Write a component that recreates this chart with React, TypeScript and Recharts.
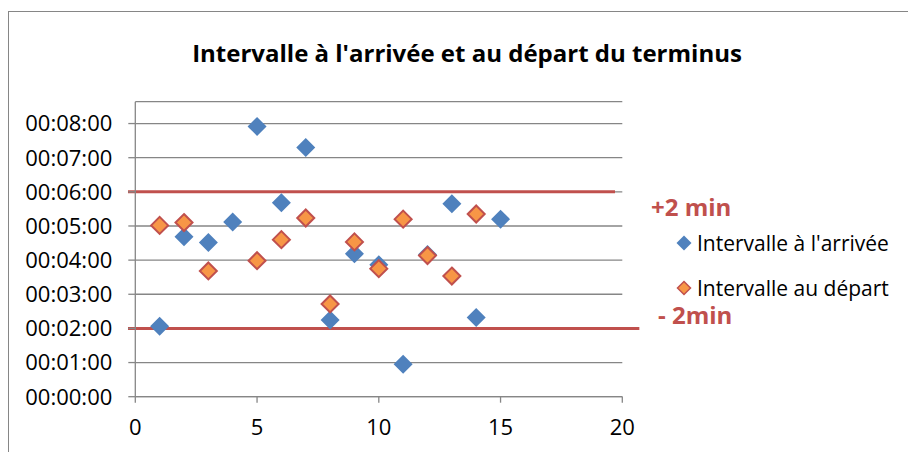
import React from 'react';
import {
    ScatterChart, Scatter, XAxis, YAxis, CartesianGrid, ReferenceLine
} from 'recharts';

// x = passage number, y = interval in seconds
const arrivalX = [1, 2, 3, 4, 5, 6, 7, 8, 9, 10, 11, 12, 13, 14, 15];
const arrivalSec = [124, 281, 271, 307, 475, 341, 438, 135, 251, 232, 57, 250, 339, 139, 312];

const departureX = [1, 2, 3, 5, 6, 7, 8, 9, 10, 11, 12, 13, 14];
const departureSec = [301, 306, 221, 239, 276, 314, 163, 272, 225, 312, 248, 212, 321];

const xTicks = [0, 5, 10, 15, 20];
const yTicks = [0, 60, 120, 180, 240, 300, 360, 420, 480];

const upperLimit = 360; // +2 min
const lowerLimit = 120; // -2 min

const ARRIVAL_NAME = "Intervalle à l'arrivée";
const DEPARTURE_NAME = 'Intervalle au départ';

const FONT = '"Open Sans", sans-serif';
const GRID = '#868686';
const BLUE = '#4F81BD';
const ORANGE = '#F79646';
const RED = '#C0504D';

const arrivalData = arrivalX.map((x, i) => ({ x, y: arrivalSec[i] }));
const departureData = departureX.map((x, i) => ({ x, y: departureSec[i] }));

const pad = (n) => String(n).padStart(2, '0');
const formatTime = (s) => `${pad(Math.floor(s / 3600))}:${pad(Math.floor((s % 3600) / 60))}:${pad(s % 60)}`;

const diamond = (fill, stroke, r, sw) => (props) => {
    const { cx, cy } = props;
    if (cx == null || cy == null) return null;
    return (
        <polygon
            points={`${cx},${cy - r} ${cx + r},${cy} ${cx},${cy + r} ${cx - r},${cy}`}
            fill={fill}
            stroke={stroke}
            strokeWidth={sw}
        />
    );
};

const legendItems = [
    { name: ARRIVAL_NAME, fill: BLUE, stroke: BLUE, sw: 0 },
    { name: DEPARTURE_NAME, fill: ORANGE, stroke: RED, sw: 1.5 },
];

const limitLabel = {
    position: 'absolute',
    fontFamily: FONT,
    fontWeight: 700,
    fontSize: 24,
    color: RED,
    lineHeight: '30px',
    whiteSpace: 'nowrap',
};

export default function App() {
    return (
        <div style={{ position: 'absolute', left: 0, top: 0, width: 908, height: 452, overflow: 'hidden', background: '#fff' }}>
            <div style={{ position: 'absolute', left: 8, top: 11, width: 1000, height: 600, border: `1.5px solid ${GRID}` }} />
            <div style={{
                position: 'absolute', left: 0, top: 37, width: 934, textAlign: 'center',
                fontFamily: FONT, fontWeight: 700, fontSize: 24, lineHeight: '32px', color: '#000'
            }}>
                Intervalle à l'arrivée et au départ du terminus
            </div>
            <div style={{ ...limitLabel, left: 651, top: 192 }}>+2 min</div>
            <div style={{ ...limitLabel, left: 658, top: 300 }}>- 2min</div>
            <div style={{ position: 'absolute', left: 676, top: 228, fontFamily: FONT, fontSize: 21, color: '#000' }}>
                {legendItems.map((item) => (
                    <div key={item.name} style={{ display: 'flex', alignItems: 'center', height: 30, marginBottom: 14.6 }}>
                        <svg width={16} height={16} style={{ marginRight: 5 }}>
                            {diamond(item.fill, item.stroke, item.sw ? 6.5 : 7.5, item.sw)({ cx: 8, cy: 8 })}
                        </svg>
                        <span>{item.name}</span>
                    </div>
                ))}
            </div>
            <div style={{ position: 'absolute', left: 0, top: 0 }}>
                <ScatterChart width={908} height={452} margin={{ top: 101.7, right: 285.7, bottom: 0, left: 15.3 }}>
                    <CartesianGrid horizontal vertical={false} stroke={GRID} strokeWidth={1.3} />
                    <XAxis
                        type="number"
                        dataKey="x"
                        domain={[0, 20]}
                        ticks={xTicks}
                        height={55.3}
                        axisLine={{ stroke: GRID, strokeWidth: 1.3 }}
                        tickLine={{ stroke: GRID, strokeWidth: 1.3 }}
                        tickSize={6}
                        tickMargin={17}
                        tick={{ fill: '#000', fontSize: 22, fontFamily: FONT }}
                    />
                    <YAxis
                        type="number"
                        dataKey="y"
                        domain={[0, 518.4]}
                        ticks={yTicks}
                        width={120}
                        tickFormatter={formatTime}
                        axisLine={{ stroke: GRID, strokeWidth: 1.3 }}
                        tickLine={{ stroke: GRID, strokeWidth: 1.3 }}
                        tickSize={7}
                        tickMargin={16}
                        tick={{ fill: '#000', fontSize: 22, fontFamily: FONT }}
                    />
                    <ReferenceLine
                        segment={[{ x: -0.3, y: upperLimit }, { x: 19.7, y: upperLimit }]}
                        stroke={RED}
                        strokeWidth={3}
                        ifOverflow="visible"
                    />
                    <ReferenceLine
                        segment={[{ x: -0.3, y: lowerLimit }, { x: 20.7, y: lowerLimit }]}
                        stroke={RED}
                        strokeWidth={3}
                        ifOverflow="visible"
                    />
                    <Scatter
                        name={ARRIVAL_NAME}
                        data={arrivalData}
                        fill={BLUE}
                        shape={diamond(BLUE, BLUE, 9.5, 0)}
                        isAnimationActive={false}
                    />
                    <Scatter
                        name={DEPARTURE_NAME}
                        data={departureData}
                        fill={ORANGE}
                        shape={diamond(ORANGE, RED, 8.5, 2)}
                        isAnimationActive={false}
                    />
                </ScatterChart>
            </div>
        </div>
    );
}
